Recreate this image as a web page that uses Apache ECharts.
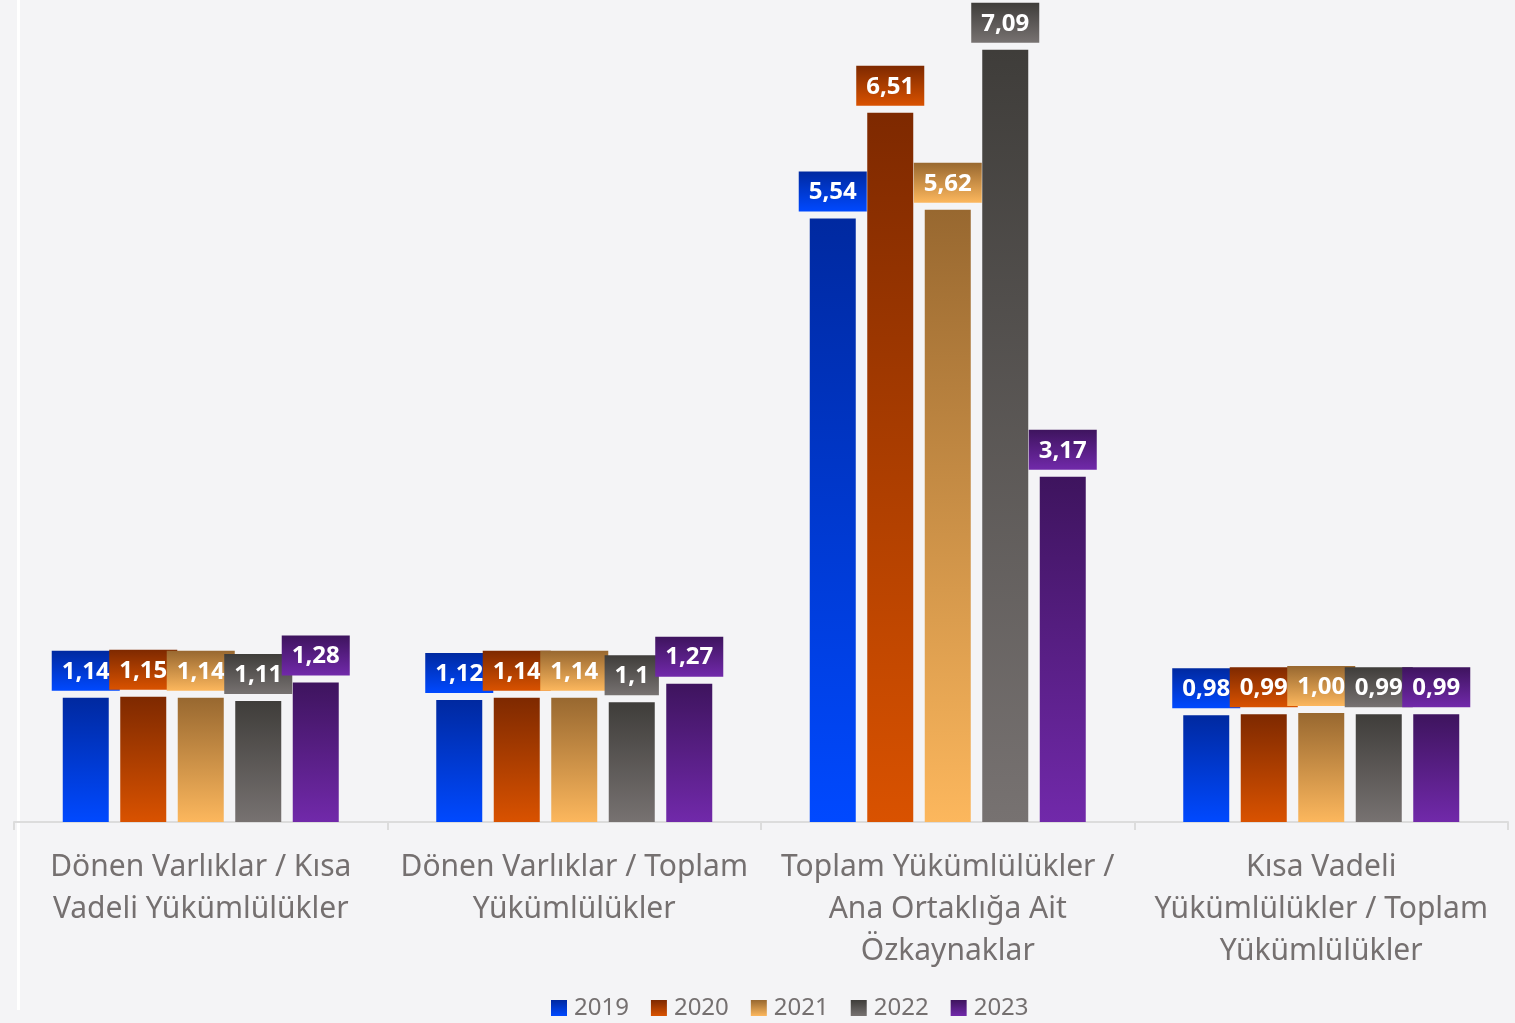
<!DOCTYPE html>
<html lang="tr">

<head>
    <meta charset="utf-8">
    <style type="text/css">
    body {
        margin: 0;
        background-color: #f4f4f6;
    }

    #echarts {
        width: 1515px;
        height: 1023px;
    }

    #edge {
        position: absolute;
        left: 17px;
        top: 0;
        width: 3px;
        height: 1010px;
        background: #fff;
    }
    </style>
</head>

<body>
    <div id="edge"></div>
    <div id="echarts"></div>
    <script type="text/javascript" src="https://cdn.jsdelivr.net/npm/echarts@6/dist/echarts.min.js"></script>
    <script type="text/javascript">
    var categories = [
        'Dönen Varlıklar / Kısa\nVadeli Yükümlülükler',
        'Dönen Varlıklar / Toplam\nYükümlülükler',
        'Toplam Yükümlülükler /\nAna Ortaklığa Ait\nÖzkaynaklar',
        'Kısa Vadeli\nYükümlülükler / Toplam\nYükümlülükler'
    ];
    var years = ['2019', '2020', '2021', '2022', '2023'];
    var v2019 = [1.14, 1.12, 5.54, 0.98];
    var v2020 = [1.15, 1.14, 6.51, 0.99];
    var v2021 = [1.14, 1.14, 5.62, 1.00];
    var v2022 = [1.11, 1.10, 7.09, 0.99];
    var v2023 = [1.28, 1.27, 3.17, 0.99];
    // label text as shown in the picture
    var t2019 = ['1,14', '1,12', '5,54', '0,98'];
    var t2020 = ['1,15', '1,14', '6,51', '0,99'];
    var t2021 = ['1,14', '1,14', '5,62', '1,00'];
    var t2022 = ['1,11', '1,1', '7,09', '0,99'];
    var t2023 = ['1,28', '1,27', '3,17', '0,99'];

    var colors = [
        ['#0029a0', '#0049ff'],
        ['#7e2900', '#d95200'],
        ['#986830', '#fcb75d'],
        ['#3f3d3a', '#777271'],
        ['#3e145e', '#7129aa']
    ];

    function grad(c) {
        return new echarts.graphic.LinearGradient(0, 0, 0, 1, [
            { offset: 0, color: c[0] },
            { offset: 1, color: c[1] }
        ]);
    }

    var values = [v2019, v2020, v2021, v2022, v2023];
    var texts = [t2019, t2020, t2021, t2022, t2023];

    var series = years.map(function(y, i) {
        return {
            name: y,
            type: 'bar',
            barWidth: 46,
            barGap: '25%',
            data: values[i],
            itemStyle: { color: grad(colors[i]) },
            label: {
                show: true,
                position: 'top',
                distance: 7,
                color: '#fff',
                fontFamily: 'Noto Sans',
                fontWeight: 'bold',
                fontSize: 24,
                padding: [9, 10, 7, 10],
                backgroundColor: grad(colors[i]),
                formatter: function(p) {
                    return texts[i][p.dataIndex];
                }
            }
        };
    });

    var myEcharts = echarts.init(document.getElementById('echarts'));
    var option = {
        backgroundColor: 'transparent',
        animation: false,
        textStyle: { fontFamily: 'Noto Sans' },
        grid: { left: 14, right: 7, top: 5, bottom: 201 },
        legend: {
            top: 991,
            left: 546,
            itemWidth: 16,
            itemHeight: 16,
            itemGap: 22,
            icon: 'rect',
            textStyle: { color: '#757070', fontSize: 24, padding: [0, 0, 0, 2] },
            data: years
        },
        xAxis: {
            type: 'category',
            data: categories,
            axisLine: { lineStyle: { color: '#dcdcdc', width: 2 } },
            axisTick: { show: true, length: 8, lineStyle: { color: '#dcdcdc', width: 2 } },
            axisLabel: {
                interval: 0,
                margin: 24,
                color: '#757070',
                fontSize: 30,
                lineHeight: 42
            }
        },
        yAxis: {
            type: 'value',
            min: 0,
            max: 7.5,
            show: false,
            splitLine: { show: false }
        },
        series: series
    };
    myEcharts.setOption(option);
    </script>
</body>

</html>
